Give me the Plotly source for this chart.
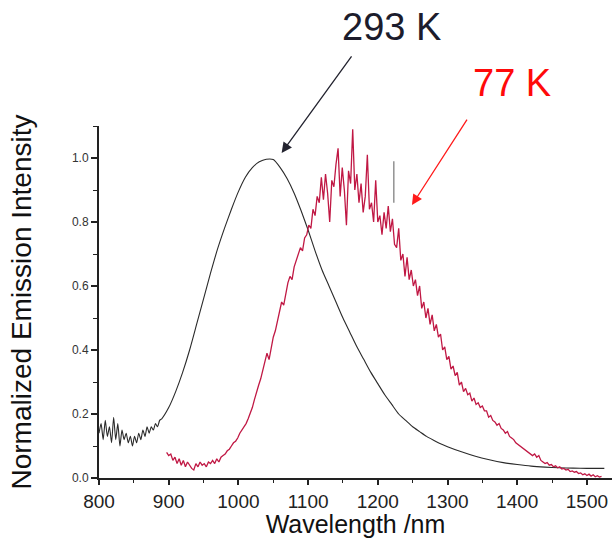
import plotly.graph_objects as go

# ---- 293 K spectrum (black) ----
wl_293 = [800, 803, 806, 809, 812, 815, 818, 821, 824, 827, 830, 833, 836, 839, 842, 845, 848,
          851, 854, 857, 860, 863, 866, 869, 872, 875, 878, 881, 884, 887, 890,
          900, 910, 920, 930, 940, 950, 960, 970, 980, 990, 1000, 1010, 1020, 1030, 1040,
          1050, 1060, 1070, 1080, 1090, 1100, 1110, 1120, 1130, 1140, 1150, 1160, 1170,
          1180, 1190, 1200, 1210, 1220, 1230, 1240, 1250, 1260, 1270, 1280, 1290, 1300,
          1320, 1340, 1360, 1380, 1400, 1420, 1440, 1460, 1480, 1500, 1525]
int_293 = [0.14, 0.17, 0.12, 0.18, 0.13, 0.16, 0.11, 0.19, 0.12, 0.17, 0.10, 0.15, 0.12, 0.14, 0.11,
           0.13, 0.10, 0.13, 0.11, 0.14, 0.12, 0.15, 0.13, 0.16, 0.14, 0.16, 0.15, 0.17, 0.16, 0.18, 0.185,
           0.22, 0.27, 0.33, 0.40, 0.48, 0.56, 0.64, 0.715, 0.78, 0.84, 0.895, 0.94, 0.97, 0.988, 0.996,
           0.995, 0.97, 0.935, 0.89, 0.835, 0.775, 0.71, 0.65, 0.60, 0.55, 0.50, 0.455, 0.41,
           0.37, 0.33, 0.295, 0.26, 0.23, 0.20, 0.18, 0.16, 0.145, 0.13, 0.118, 0.107, 0.098,
           0.082, 0.068, 0.057, 0.048, 0.042, 0.037, 0.034, 0.032, 0.031, 0.030, 0.030]

# ---- 77 K spectrum (red) ----
wl_77 = [897, 900, 903, 906, 909, 912, 915, 918, 921, 924, 927, 930, 933, 936, 939, 942, 945, 948,
         951, 954, 957, 960, 963, 966, 969, 972, 975, 978, 981, 984, 987, 990, 993, 996, 999,
         1002, 1005, 1008, 1011, 1014, 1017, 1020, 1023, 1026, 1029, 1032, 1035, 1038, 1041, 1044,
         1047, 1050, 1053, 1056, 1059, 1062, 1065, 1068, 1071, 1074, 1077, 1080, 1083, 1086, 1089,
         1092, 1095, 1098, 1101, 1104, 1107, 1110, 1113, 1116, 1119, 1122, 1125, 1128, 1131, 1134,
         1137, 1140, 1143, 1146, 1149, 1152, 1155, 1158, 1161, 1164, 1167, 1170, 1173, 1176, 1179,
         1182, 1185, 1188, 1191, 1194, 1197, 1200, 1203, 1206, 1209, 1212, 1215, 1218, 1221, 1224,
         1227, 1230, 1233, 1236, 1239, 1242, 1245, 1248, 1251, 1254, 1257, 1260, 1263, 1266, 1269,
         1272, 1275, 1278, 1281, 1284, 1287, 1290, 1293, 1296, 1299, 1302, 1305, 1308, 1311, 1314,
         1317, 1320, 1323, 1326, 1329, 1332, 1335, 1338, 1341, 1344, 1347, 1350, 1353, 1356, 1359,
         1362, 1365, 1368, 1371, 1374, 1377, 1380, 1383, 1386, 1389, 1392, 1395, 1398, 1401, 1404,
         1407, 1410, 1413, 1416, 1419, 1422, 1425, 1428, 1431, 1434, 1437, 1440, 1443, 1446, 1449,
         1452, 1455, 1458, 1461, 1464, 1467, 1470, 1473, 1476, 1479, 1482, 1485, 1488, 1491, 1494,
         1497, 1500, 1503, 1506, 1509, 1512, 1515, 1518, 1521]
int_77 = [0.08, 0.07, 0.075, 0.055, 0.065, 0.045, 0.06, 0.04, 0.055, 0.035, 0.05, 0.04, 0.03, 0.025,
          0.045, 0.035, 0.05, 0.04, 0.045, 0.035, 0.05, 0.045, 0.055, 0.045, 0.06, 0.05, 0.065, 0.07,
          0.075, 0.085, 0.09, 0.10, 0.11, 0.115, 0.125,
          0.14, 0.15, 0.16, 0.17, 0.185, 0.20, 0.22, 0.245, 0.27, 0.29, 0.31, 0.34, 0.36, 0.39, 0.37,
          0.41, 0.44, 0.46, 0.49, 0.52, 0.55, 0.54, 0.58, 0.61, 0.63, 0.62, 0.66, 0.68, 0.70, 0.72,
          0.71, 0.75, 0.76, 0.79, 0.78, 0.84, 0.82, 0.88, 0.86, 0.94, 0.87, 0.95, 0.89, 0.80, 0.93,
          0.91, 0.98, 1.03, 0.88, 0.97, 0.90, 0.79, 0.96, 0.92, 1.09, 0.90, 0.95, 0.86, 0.92, 0.83,
          0.88, 1.01, 0.84, 0.86, 0.80, 0.93, 0.80, 0.82, 0.76, 0.83, 0.78, 0.85, 0.77, 0.81, 0.73,
          0.72, 0.78, 0.68, 0.70, 0.63, 0.69, 0.62, 0.65, 0.60, 0.62, 0.57, 0.60, 0.53, 0.55, 0.50,
          0.53, 0.48, 0.51, 0.46, 0.48, 0.44, 0.45, 0.40, 0.41, 0.37, 0.38, 0.34, 0.35, 0.32, 0.33,
          0.29, 0.30, 0.27, 0.28, 0.26, 0.265, 0.24, 0.25, 0.23, 0.235, 0.22, 0.225, 0.21, 0.21, 0.19,
          0.195, 0.18, 0.175, 0.165, 0.17, 0.155, 0.15, 0.14, 0.145, 0.13, 0.125, 0.12, 0.11, 0.105, 0.10,
          0.095, 0.09, 0.085, 0.08, 0.075, 0.07, 0.075, 0.065, 0.07, 0.055, 0.05, 0.045, 0.048, 0.04, 0.042,
          0.035, 0.038, 0.032, 0.035, 0.028, 0.03, 0.025, 0.027, 0.02, 0.022, 0.018, 0.02, 0.014, 0.016, 0.01,
          0.013, 0.008, 0.012, 0.006, 0.01, 0.004, 0.007, 0.003, 0.005]

# small vertical artefact bar
bar_wl = [1223, 1223]
bar_int = [0.86, 0.99]

# arrow targets (wavelength, intensity)
arrow_293 = (1062, 1.016)
arrow_77 = (1249, 0.853)

FONT = "Liberation Sans, Arial, sans-serif"

fig = go.Figure()
fig.add_trace(go.Scatter(x=wl_293, y=int_293, mode="lines", line_shape="spline",
                         line=dict(color="#2a2a2a", width=1.1, smoothing=0.6), name="293 K"))
fig.add_trace(go.Scatter(x=wl_77, y=int_77, mode="lines",
                         line=dict(color="#c01844", width=1.3), name="77 K"))
fig.add_trace(go.Scatter(x=bar_wl, y=bar_int, mode="lines",
                         line=dict(color="#777777", width=1.2), name="bar"))

fig.add_annotation(x=arrow_293[0], y=arrow_293[1], xref="x", yref="y", text="",
                   showarrow=True, ax=71, ay=-98, arrowhead=2, arrowsize=1.6,
                   arrowwidth=1.3, arrowcolor="#23232f")
fig.add_annotation(x=arrow_77[0], y=arrow_77[1], xref="x", yref="y", text="",
                   showarrow=True, ax=56, ay=-87, arrowhead=2, arrowsize=1.6,
                   arrowwidth=1.3, arrowcolor="#ff1a1a")
fig.add_annotation(x=0.571, y=1.281, xref="paper", yref="paper", text="293 K",
                   showarrow=False, xanchor="center", yanchor="middle",
                   font=dict(family=FONT, size=38, color="#1c1c2c"))
fig.add_annotation(x=0.805, y=1.122, xref="paper", yref="paper", text="77 K",
                   showarrow=False, xanchor="center", yanchor="middle",
                   font=dict(family=FONT, size=38, color="#ff0a0a"))

fig.update_layout(
    width=612, height=538,
    margin=dict(l=99, r=0, t=126, b=60),
    paper_bgcolor="white", plot_bgcolor="white",
    showlegend=False,
    font=dict(family=FONT, color="#222222"),
)
fig.update_xaxes(
    range=[800, 1536], showline=True, linecolor="#222222", linewidth=2,
    ticks="outside", ticklen=5, tickwidth=1.5, tickcolor="#222222",
    tick0=800, dtick=100, showgrid=False, zeroline=False, automargin=False,
    minor=dict(ticks="outside", ticklen=3, dtick=50, tickcolor="#222222", tickwidth=1.2),
    tickfont=dict(family=FONT, size=19, color="#222222"),
    title=dict(text="Wavelength /nm", font=dict(family=FONT, size=25, color="#111111"), standoff=3),
)
fig.update_yaxes(
    range=[0, 1.1], showline=True, linecolor="#222222", linewidth=2,
    ticks="outside", ticklen=6, tickwidth=1.5, tickcolor="#222222",
    tick0=0, dtick=0.2, tickformat=".1f", showgrid=False, zeroline=False, automargin=False,
    minor=dict(ticks="outside", ticklen=4, dtick=0.1, tickcolor="#222222", tickwidth=1.2),
    tickfont=dict(family=FONT, size=12, color="#333333"),
    title=dict(text="Normalized Emission Intensity", font=dict(family=FONT, size=28, color="#111111"), standoff=32),
)

fig.write_html("out.html", config={"displayModeBar": False},
               post_script="document.body.style.margin='0';document.body.style.padding='0';")
